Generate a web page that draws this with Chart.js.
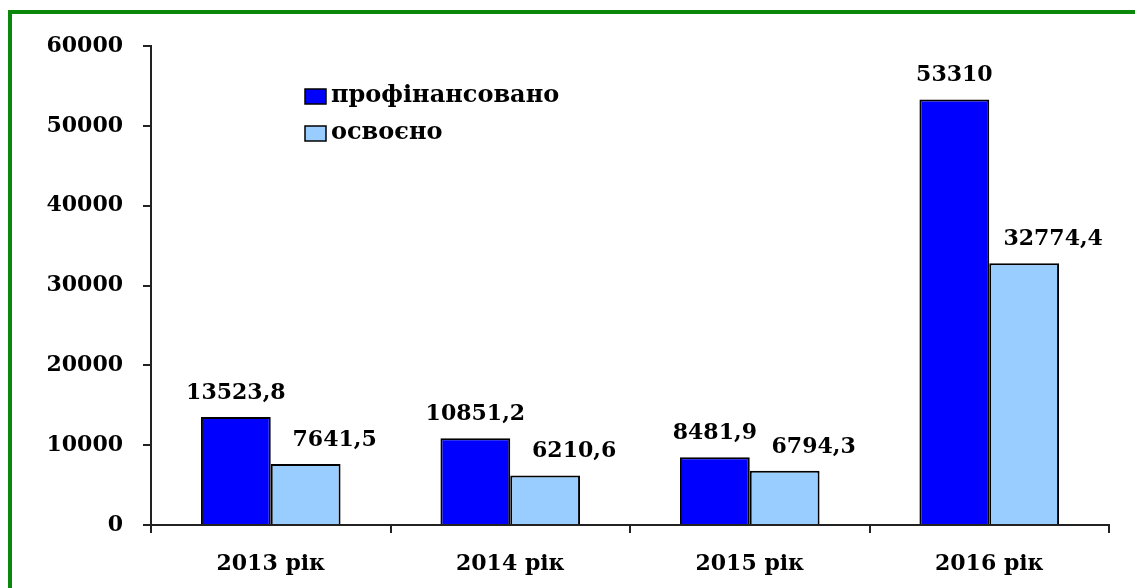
<!DOCTYPE html>
<html>
<head>
<meta charset="utf-8">
<script src="https://cdn.jsdelivr.net/npm/chart.js@4/dist/chart.umd.min.js"></script>
<style>
  body { margin: 0; background: #fff; }
  #wrap { position: relative; width: 1135px; height: 588px; overflow: hidden; }
  #frame {
    position: absolute; left: 8px; top: 10px; width: 2000px; height: 1000px;
    border-left: 4px solid #0b870b; border-top: 4px solid #0b870b;
    pointer-events: none;
  }
</style>
</head>
<body>
<div id="wrap">
  <canvas id="chart" width="1135" height="588"></canvas>
  <div id="frame"></div>
</div>
<script>
// data
const years = ["2013 рік", "2014 рік", "2015 рік", "2016 рік"];
const financed = [13523.8, 10851.2, 8481.9, 53310];
const used = [7641.5, 6210.6, 6794.3, 32774.4];
const seriesNames = ["профінансовано", "освоєно"];
const yTicks = [0, 10000, 20000, 30000, 40000, 50000, 60000];

const FONT = "'DejaVu Serif', 'Liberation Serif', serif";
const AXIS_COLOR = "#222";

function fmt(v) {
    return String(v).replace(".", ",");
}

// value labels above the bars (second series labels sit a bit to the right)
const barLabels = {
    id: "barLabels",
    afterDatasetsDraw(chart) {
        const ctx = chart.ctx;
        const shift = [0, 29];
        ctx.save();
        ctx.font = "bold 22px " + FONT;
        ctx.fillStyle = "#000";
        ctx.textAlign = "center";
        ctx.textBaseline = "alphabetic";
        chart.data.datasets.forEach((ds, i) => {
            chart.getDatasetMeta(i).data.forEach((bar, j) => {
                ctx.fillText(fmt(ds.data[j]), bar.x + shift[i], bar.y - 18);
            });
        });
        ctx.restore();
    }
};

// legend drawn inside the plot area
const innerLegend = {
    id: "innerLegend",
    afterDraw(chart) {
        const ctx = chart.ctx;
        const area = chart.chartArea;
        const x = area.left + 154;
        let y = 96;
        ctx.save();
        ctx.font = "bold 24px " + FONT;
        ctx.textBaseline = "middle";
        ctx.textAlign = "left";
        chart.data.datasets.forEach(ds => {
            ctx.fillStyle = ds.backgroundColor;
            ctx.fillRect(x, y - 7, 21, 15);
            ctx.strokeStyle = "#000";
            ctx.lineWidth = 1.5;
            ctx.strokeRect(x, y - 7, 21, 15);
            ctx.fillStyle = "#000";
            ctx.fillText(ds.label, x + 26, y);
            y += 37;
        });
        ctx.restore();
    }
};

const ctx = document.getElementById("chart").getContext("2d");
const chart = new Chart(ctx, {
    type: "bar",
    data: {
        labels: years,
        datasets: [
            {
                label: seriesNames[0],
                data: financed,
                backgroundColor: "#0000ff",
                borderColor: "#000",
                borderWidth: 2,
                categoryPercentage: 0.583,
                barPercentage: 1
            },
            {
                label: seriesNames[1],
                data: used,
                backgroundColor: "#99ccff",
                borderColor: "#000",
                borderWidth: 2,
                categoryPercentage: 0.583,
                barPercentage: 1
            }
        ]
    },
    options: {
        responsive: false,
        animation: false,
        layout: { padding: { left: 0, right: 26, top: 46, bottom: 0 } },
        plugins: {
            legend: { display: false },
            tooltip: { enabled: false }
        },
        scales: {
            x: {
                afterFit(scale) { scale.height = 63; },
                grid: {
                    offset: true,
                    drawOnChartArea: false,
                    drawTicks: true,
                    tickLength: 8,
                    color: AXIS_COLOR,
                    lineWidth: 2
                },
                border: { color: AXIS_COLOR, width: 2 },
                ticks: {
                    color: "#000",
                    padding: 18,
                    font: { family: FONT, size: 22, weight: "bold" }
                }
            },
            y: {
                min: 0,
                max: 60000,
                afterFit(scale) { scale.width = 151; },
                afterBuildTicks(scale) {
                    scale.ticks = yTicks.map(v => ({ value: v }));
                },
                grid: {
                    drawOnChartArea: false,
                    drawTicks: true,
                    tickLength: 8,
                    color: AXIS_COLOR,
                    lineWidth: 2
                },
                border: { color: AXIS_COLOR, width: 2 },
                ticks: {
                    color: "#000",
                    padding: 20,
                    font: { family: FONT, size: 22, weight: "bold" },
                    callback: v => String(v)
                }
            }
        }
    },
    plugins: [barLabels, innerLegend]
});
</script>
</body>
</html>
